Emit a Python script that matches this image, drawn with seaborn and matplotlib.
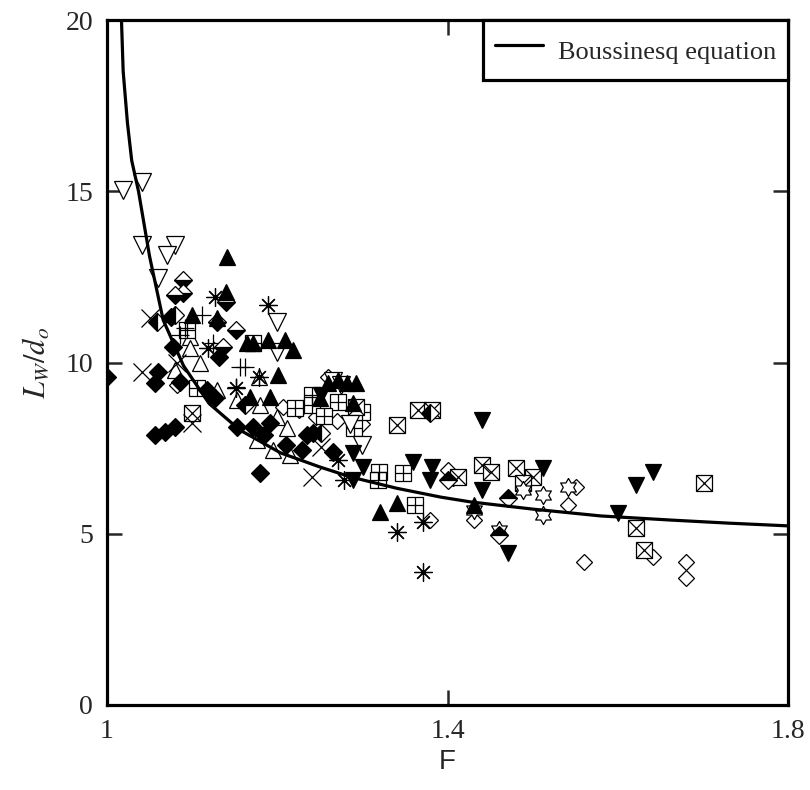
import numpy as np
import matplotlib
matplotlib.use("Agg")
import matplotlib.pyplot as plt
import seaborn as sns

# ---------------- data ----------------
curve_F = [1.017, 1.019, 1.024, 1.029, 1.037, 1.05, 1.066, 1.09, 1.12, 1.156,
           1.204, 1.25, 1.286, 1.34, 1.392, 1.427, 1.5, 1.58, 1.662, 1.73, 1.8]
curve_L = [20.0, 18.5, 17.0, 15.9, 15.0, 13.1, 11.24, 9.9, 8.8, 8.03,
           7.36, 6.95, 6.66, 6.33, 6.07, 5.93, 5.72, 5.52, 5.40, 5.31, 5.23]

tri_down_open_F = [1.019, 1.041, 1.041, 1.080, 1.071, 1.060, 1.200, 1.200, 1.265, 1.275,
                   1.285, 1.300]
tri_down_open_L = [15.04, 15.27, 13.43, 13.43, 13.14, 12.47, 11.18, 10.30, 9.45, 9.35,
                   8.20, 7.60]

diamond_fill_F = [1.000, 1.060, 1.056, 1.078, 1.086, 1.131, 1.118, 1.127, 1.153, 1.056,
                  1.068, 1.080, 1.171, 1.184, 1.192, 1.180, 1.229, 1.242, 1.235, 1.075,
                  1.210, 1.265]
diamond_fill_L = [9.58, 9.72, 9.40, 10.45, 9.43, 10.16, 9.20, 8.96, 8.12, 7.88,
                  7.97, 8.12, 8.12, 7.88, 8.23, 6.77, 7.45, 7.94, 7.88, 11.33,
                  7.60, 7.40]

diamond_bottom_F = [1.089, 1.089, 1.080, 1.140, 1.129, 1.151, 1.136]
diamond_bottom_L = [12.41, 12.03, 11.97, 11.77, 11.18, 10.95, 10.45]

diamond_left_F = [1.059, 1.080, 1.162, 1.251, 1.380]
diamond_left_L = [11.18, 11.39, 8.76, 7.94, 8.53]

diamond_top_F = [1.401, 1.471, 1.460]
diamond_top_L = [6.57, 6.05, 4.95]

tri_up_fill_F = [1.141, 1.140, 1.100, 1.129, 1.165, 1.172, 1.189, 1.209, 1.219, 1.201,
                 1.168, 1.192, 1.271, 1.282, 1.292, 1.260, 1.289, 1.321, 1.341, 1.431,
                 1.250]
tri_up_fill_L = [13.08, 12.05, 11.39, 11.30, 10.57, 10.57, 10.66, 10.66, 10.36, 9.64,
                 8.99, 8.99, 9.49, 9.40, 9.40, 9.40, 8.82, 5.64, 5.90, 5.84,
                 8.95]

tri_up_open_F = [1.098, 1.098, 1.080, 1.109, 1.129, 1.153, 1.178, 1.180, 1.176, 1.195,
                 1.215, 1.200, 1.212]
tri_up_open_L = [10.74, 10.42, 9.78, 9.99, 9.20, 8.91, 9.58, 8.76, 7.74, 7.45,
                 7.30, 8.40, 8.10]

aster_F = [1.127, 1.189, 1.119, 1.151, 1.178, 1.271, 1.278, 1.341, 1.371, 1.371]
aster_L = [11.91, 11.68, 10.42, 9.26, 9.58, 7.15, 6.57, 5.05, 3.88, 5.34]

cross_F = [1.051, 1.041, 1.082, 1.100, 1.251, 1.241]
cross_L = [11.30, 9.72, 9.99, 8.23, 7.53, 6.66]

plus_F = [1.112, 1.086, 1.125, 1.156, 1.151, 1.162, 1.092]
plus_L = [11.39, 10.80, 10.57, 9.87, 9.28, 9.87, 11.01]

boxplus_F = [1.094, 1.106, 1.172, 1.221, 1.241, 1.241, 1.271, 1.319, 1.318, 1.348, 1.362,
             1.255, 1.290, 1.300]
boxplus_L = [10.95, 9.26, 10.57, 8.67, 9.05, 8.76, 8.85, 6.80, 6.57, 6.77, 5.84,
             8.45, 8.10, 8.55]

boxx_F = [1.100, 1.292, 1.341, 1.365, 1.382, 1.441, 1.451, 1.480, 1.500, 1.489,
          1.412, 1.621, 1.631, 1.701]
boxx_L = [8.53, 8.70, 8.18, 8.61, 8.61, 7.01, 6.80, 6.92, 6.66, 6.48,
          6.66, 5.17, 4.53, 6.47]

diamond_open_F = [1.082, 1.207, 1.260, 1.401, 1.380, 1.431, 1.551, 1.541, 1.560,
                  1.641, 1.680, 1.680, 1.407, 1.225, 1.245, 1.270, 1.300]
diamond_open_L = [9.34, 8.70, 9.58, 6.86, 5.40, 5.40, 6.36, 5.84, 4.18,
                  4.32, 4.18, 3.71, 6.63, 8.60, 8.40, 8.30, 8.20]

tri_down_fill_F = [1.251, 1.289, 1.301, 1.289, 1.360, 1.382, 1.380, 1.441, 1.441,
                   1.512, 1.471, 1.600, 1.621, 1.641]
tri_down_fill_L = [9.05, 7.36, 6.95, 6.57, 7.09, 6.95, 6.57, 8.32, 6.28,
                   6.91, 4.44, 5.61, 6.42, 6.80]

hexa_F = [1.489, 1.512, 1.512, 1.541, 1.431, 1.460]
hexa_L = [6.28, 6.13, 5.55, 6.36, 5.69, 5.11]

x_ticks = [1.0, 1.4, 1.8]
x_tick_labels = ["1", "1.4", "1.8"]
y_ticks = [0, 5, 10, 15, 20]

# ---------------- style ----------------
sns.set_style("ticks")
plt.rcParams["font.family"] = ["Liberation Serif", "DejaVu Serif"]
plt.rcParams["mathtext.fontset"] = "stix"

fig = plt.figure(figsize=(8.1, 7.9), dpi=100)
ax = fig.add_axes([107 / 810, 1 - 705 / 790, (788 - 107) / 810, (705 - 20) / 790])

# hexagram marker outline
ang = np.deg2rad(90 + 30 * np.arange(12))
rad = np.where(np.arange(12) % 2 == 0, 1.0, 1 / np.sqrt(3))
hexagram = list(zip(rad * np.cos(ang), rad * np.sin(ang)))
hexagram.append(hexagram[0])


def draw(xs, ys, marker, ms, face="white", fillstyle="full", mew=0.9):
    sns.lineplot(x=xs, y=ys, ax=ax, estimator=None, sort=False, errorbar=None,
                 linestyle="", marker=marker, markersize=ms,
                 markerfacecolor=face, markeredgecolor="black",
                 markeredgewidth=mew, fillstyle=fillstyle,
                 markerfacecoloralt="white", color="black", legend=False)


draw(tri_up_open_F, tri_up_open_L, "^", 12)
draw(diamond_open_F, diamond_open_L, "D", 8.6)
draw(boxplus_F, boxplus_L, "s", 11.5)
draw(boxplus_F, boxplus_L, "+", 11.5)
draw(boxx_F, boxx_L, "s", 11.5)
draw(boxx_F, boxx_L, "x", 11.5)
draw(hexa_F, hexa_L, hexagram, 13)
draw(tri_down_open_F, tri_down_open_L, "v", 12.5)
draw(cross_F, cross_L, "x", 13)
draw(plus_F, plus_L, "+", 13)
draw(aster_F, aster_L, (8, 2, 0), 13)
draw(diamond_fill_F, diamond_fill_L, "D", 9.5, face="black")
draw(diamond_bottom_F, diamond_bottom_L, "D", 9.5, face="black", fillstyle="bottom")
draw(diamond_left_F, diamond_left_L, "D", 9.5, face="black", fillstyle="left")
draw(diamond_top_F, diamond_top_L, "D", 9.0, face="black", fillstyle="top")
draw(tri_up_fill_F, tri_up_fill_L, "^", 12, face="black")
draw(tri_down_fill_F, tri_down_fill_L, "v", 12, face="black")

sns.lineplot(x=curve_F, y=curve_L, ax=ax, estimator=None, sort=False, errorbar=None,
             color="black", linewidth=2.3, label="Boussinesq equation")

ax.set_xlim(1.0, 1.8)
ax.set_ylim(0, 20)
ax.set_xticks(x_ticks)
ax.set_xticklabels(x_tick_labels)
ax.set_yticks(y_ticks)
ax.tick_params(axis="both", direction="in", length=11, width=1.8,
               labelsize=20, pad=10, top=True, right=True)
for sp in ax.spines.values():
    sp.set_linewidth(2.3)
    sp.set_color("black")

ax.set_xlabel("F", fontsize=20, family=["Liberation Sans", "DejaVu Sans"], labelpad=4)
ax.set_ylabel(r"$L_W/d_o$", fontsize=22, labelpad=10)

leg = ax.legend(loc="upper right", borderaxespad=0, fancybox=False, framealpha=1,
                edgecolor="black", fontsize=19, handlelength=1.85, handletextpad=0.55,
                handleheight=1.75, borderpad=0.45)
leg.get_frame().set_linewidth(2.3)

fig.savefig("out.png", dpi=100)
